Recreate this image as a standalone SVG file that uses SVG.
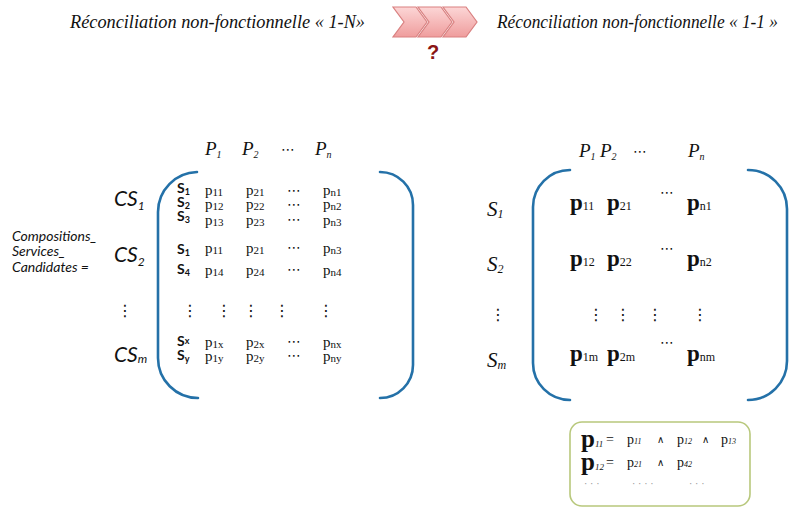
<svg xmlns="http://www.w3.org/2000/svg" width="796" height="508" viewBox="0 0 796 508">
<defs>
<linearGradient id="chev" x1="0" y1="0" x2="0" y2="1">
<stop offset="0" stop-color="#fcd6d6"/>
<stop offset="1" stop-color="#ef9d9d"/>
</linearGradient>
<style>
.title{font-family:"Liberation Serif",serif;font-style:italic;font-size:18px;fill:#111}
.chev{fill:url(#chev);stroke:#d98080;stroke-width:1.2}
.q{font-family:"Liberation Sans",sans-serif;font-weight:bold;font-size:20px;fill:#8b1515}
.br{fill:none;stroke:#2471a8;stroke-width:2.6;stroke-linecap:round}
.lab{font-family:"Lato","Liberation Sans",sans-serif;font-style:italic;font-size:14px;fill:#111}
.cs{font-family:"Lato","Liberation Sans",sans-serif;font-style:italic;font-size:21px;fill:#111}
.sub{font-size:12px}
.hp{font-family:"Liberation Serif",serif;font-style:italic;font-size:19px;fill:#111}
.hs{font-size:10px}
.sb{font-family:"Lato","Liberation Sans",sans-serif;font-weight:bold;font-size:14px;fill:#111}
.sbs{font-size:9px}
.p{font-family:"Liberation Serif",serif;font-size:15px;fill:#111}
.ps{font-size:11px}
.dots{font-family:"DejaVu Sans",sans-serif;font-size:14px;fill:#111}
.vd{font-family:"DejaVu Sans",sans-serif;font-size:16px;fill:#111}
.pb{font-family:"Liberation Serif",serif;font-weight:bold;font-size:23px;fill:#111}
.pbs{font-size:12px;font-weight:normal}
.rs{font-family:"Liberation Serif",serif;font-style:italic;font-size:21px;fill:#111}
.box{fill:#fff;stroke:#b8c87c;stroke-width:1.6}
.lp{font-family:"Liberation Serif",serif;font-size:14px;fill:#111}
.lps{font-size:8px;font-style:italic}
.op{font-family:"DejaVu Sans",sans-serif;font-size:10px;fill:#111}
.lbig{font-family:"Liberation Serif",serif;font-weight:bold;font-size:25px;fill:#111}
.lbs{font-size:9px;font-style:italic;font-weight:normal}
.eq{font-family:"Liberation Serif",serif;font-size:14px;fill:#111}
.ld{font-family:"Liberation Sans",sans-serif;font-size:10px;fill:#999}
</style>
</defs>
<rect width="796" height="508" fill="#fff"/>

<g id="header">
<text class="title" x="70" y="28" textLength="295" lengthAdjust="spacingAndGlyphs">Réconciliation non-fonctionnelle « 1-N»</text>
<polygon class="chev" points="393,7 416,7 427,22 416,37 393,37 404,22"/>
<polygon class="chev" points="418,7 441,7 452,22 441,37 418,37 429,22"/>
<polygon class="chev" points="443,7 466,7 477,22 466,37 443,37 454,22"/>
<text class="q" x="433" y="59" text-anchor="middle">?</text>
<text class="title" x="497" y="28" textLength="281" lengthAdjust="spacingAndGlyphs">Réconciliation non-fonctionnelle « 1-1 »</text>
</g>

<g id="left-labels">
<text class="lab" x="12" y="241">Compositions_</text>
<text class="lab" x="12" y="256">Services_</text>
<text class="lab" x="12" y="272">Candidates =</text>
<text class="cs" x="114" y="206">CS<tspan class="sub" dy="4">1</tspan></text>
<text class="cs" x="114" y="262">CS<tspan class="sub" dy="4">2</tspan></text>
<text class="vd" x="117" y="316">⋮</text>
<text class="cs" x="114" y="362">CS<tspan class="sub" dy="1">m</tspan></text>
</g>

<g id="matrix-1-N">
<path class="br" d="M197,172 A40,40 0 0 0 158,212 L158,358 A40,40 0 0 0 198,398"/>
<path class="br" d="M380,172 A33,33 0 0 1 413,205 L413,365 A33,33 0 0 1 380,398"/>
<text class="hp" x="205" y="155">P<tspan class="hs" dy="3">1</tspan></text>
<text class="hp" x="242" y="155">P<tspan class="hs" dy="3">2</tspan></text>
<text class="dots" x="281" y="154">⋯</text>
<text class="hp" x="315" y="155">P<tspan class="hs" dy="3">n</tspan></text>

<text class="sb" x="177" y="193">S<tspan class="sbs" dy="2">1</tspan></text>
<text class="sb" x="177" y="207">S<tspan class="sbs" dy="2">2</tspan></text>
<text class="sb" x="177" y="221">S<tspan class="sbs" dy="2">3</tspan></text>
<text class="sb" x="177" y="254">S<tspan class="sbs" dy="2">1</tspan></text>
<text class="sb" x="177" y="274">S<tspan class="sbs" dy="2">4</tspan></text>
<text class="sb" x="177" y="346">S<tspan class="sbs" dy="-2">x</tspan></text>
<text class="sb" x="177" y="360">S<tspan class="sbs" dy="2">y</tspan></text>

<g class="p">
<text x="205" y="195">p<tspan class="ps" dy="1">11</tspan></text>
<text x="246" y="195">p<tspan class="ps" dy="1">21</tspan></text>
<text x="323" y="195">p<tspan class="ps" dy="1">n1</tspan></text>
<text x="205" y="209">p<tspan class="ps" dy="1">12</tspan></text>
<text x="246" y="209">p<tspan class="ps" dy="1">22</tspan></text>
<text x="323" y="209">p<tspan class="ps" dy="1">n2</tspan></text>
<text x="205" y="225">p<tspan class="ps" dy="1">13</tspan></text>
<text x="246" y="225">p<tspan class="ps" dy="1">23</tspan></text>
<text x="323" y="225">p<tspan class="ps" dy="1">n3</tspan></text>
<text x="205" y="253">p<tspan class="ps" dy="1">11</tspan></text>
<text x="246" y="253">p<tspan class="ps" dy="1">21</tspan></text>
<text x="323" y="253">p<tspan class="ps" dy="1">n3</tspan></text>
<text x="205" y="275">p<tspan class="ps" dy="1">14</tspan></text>
<text x="246" y="275">p<tspan class="ps" dy="1">24</tspan></text>
<text x="323" y="275">p<tspan class="ps" dy="1">n4</tspan></text>
<text x="205" y="347">p<tspan class="ps" dy="1">1x</tspan></text>
<text x="246" y="347">p<tspan class="ps" dy="1">2x</tspan></text>
<text x="323" y="347">p<tspan class="ps" dy="1">nx</tspan></text>
<text x="205" y="361">p<tspan class="ps" dy="1">1y</tspan></text>
<text x="246" y="361">p<tspan class="ps" dy="1">2y</tspan></text>
<text x="323" y="361">p<tspan class="ps" dy="1">ny</tspan></text>
</g>
<g class="dots">
<text x="287" y="195">⋯</text>
<text x="287" y="209">⋯</text>
<text x="287" y="224">⋯</text>
<text x="287" y="252">⋯</text>
<text x="287" y="274">⋯</text>
<text x="287" y="346">⋯</text>
<text x="287" y="360">⋯</text>
</g>
<g class="vd">
<text x="182" y="316">⋮</text>
<text x="216" y="316">⋮</text>
<text x="243" y="316">⋮</text>
<text x="274" y="316">⋮</text>
<text x="318" y="316">⋮</text>
</g>
</g>

<g id="matrix-1-1">
<path class="br" d="M570,170 A37,37 0 0 0 533,207 L533,363 A37,37 0 0 0 570,400"/>
<path class="br" d="M748,170 A39,39 0 0 1 787,209 L787,361 A39,39 0 0 1 748,400"/>
<text class="hp" x="579" y="157">P<tspan class="hs" dy="3">1</tspan></text>
<text class="hp" x="600" y="157">P<tspan class="hs" dy="3">2</tspan></text>
<text class="dots" x="633" y="156">⋯</text>
<text class="hp" x="688" y="157">P<tspan class="hs" dy="3">n</tspan></text>

<text class="rs" x="487" y="216">S<tspan class="sub" dy="2">1</tspan></text>
<text class="rs" x="487" y="271">S<tspan class="sub" dy="2">2</tspan></text>
<text class="vd" x="490" y="320">⋮</text>
<text class="rs" x="487" y="367">S<tspan class="sub" dy="2">m</tspan></text>

<g class="pb">
<text x="570" y="210">p<tspan class="pbs">11</tspan></text>
<text x="607" y="210">p<tspan class="pbs">21</tspan></text>
<text x="687" y="210">p<tspan class="pbs">n1</tspan></text>
<text x="570" y="266">p<tspan class="pbs">12</tspan></text>
<text x="607" y="266">p<tspan class="pbs">22</tspan></text>
<text x="687" y="266">p<tspan class="pbs">n2</tspan></text>
<text x="570" y="361">p<tspan class="pbs">1m</tspan></text>
<text x="607" y="361">p<tspan class="pbs">2m</tspan></text>
<text x="687" y="361">p<tspan class="pbs">nm</tspan></text>
</g>
<g class="dots">
<text x="660" y="197">⋯</text>
<text x="660" y="253">⋯</text>
<text x="660" y="347">⋯</text>
</g>
<g class="vd">
<text x="588" y="320">⋮</text>
<text x="615" y="320">⋮</text>
<text x="647" y="320">⋮</text>
<text x="692" y="320">⋮</text>
</g>
</g>

<g id="legend">
<rect class="box" x="570" y="422" width="180" height="84" rx="12"/>
<text class="lbig" x="581" y="447">p<tspan class="lbs">11</tspan></text>
<text class="eq" x="606" y="444">=</text>
<text class="lp" x="627" y="444">p<tspan class="lps">11</tspan></text>
<text class="op" x="657" y="443">∧</text>
<text class="lp" x="677" y="444">p<tspan class="lps">12</tspan></text>
<text class="op" x="702" y="443">∧</text>
<text class="lp" x="721" y="444">p<tspan class="lps">13</tspan></text>
<text class="lbig" x="581" y="470">p<tspan class="lbs">12</tspan></text>
<text class="eq" x="606" y="467">=</text>
<text class="lp" x="627" y="467">p<tspan class="lps">21</tspan></text>
<text class="op" x="657" y="466">∧</text>
<text class="lp" x="677" y="467">p<tspan class="lps">42</tspan></text>
<text class="ld" x="584" y="487">· · ·</text>
<text class="ld" x="632" y="487">·  · · ·</text>
<text class="ld" x="689" y="487">·  ·  ·</text>
</g>
</svg>
